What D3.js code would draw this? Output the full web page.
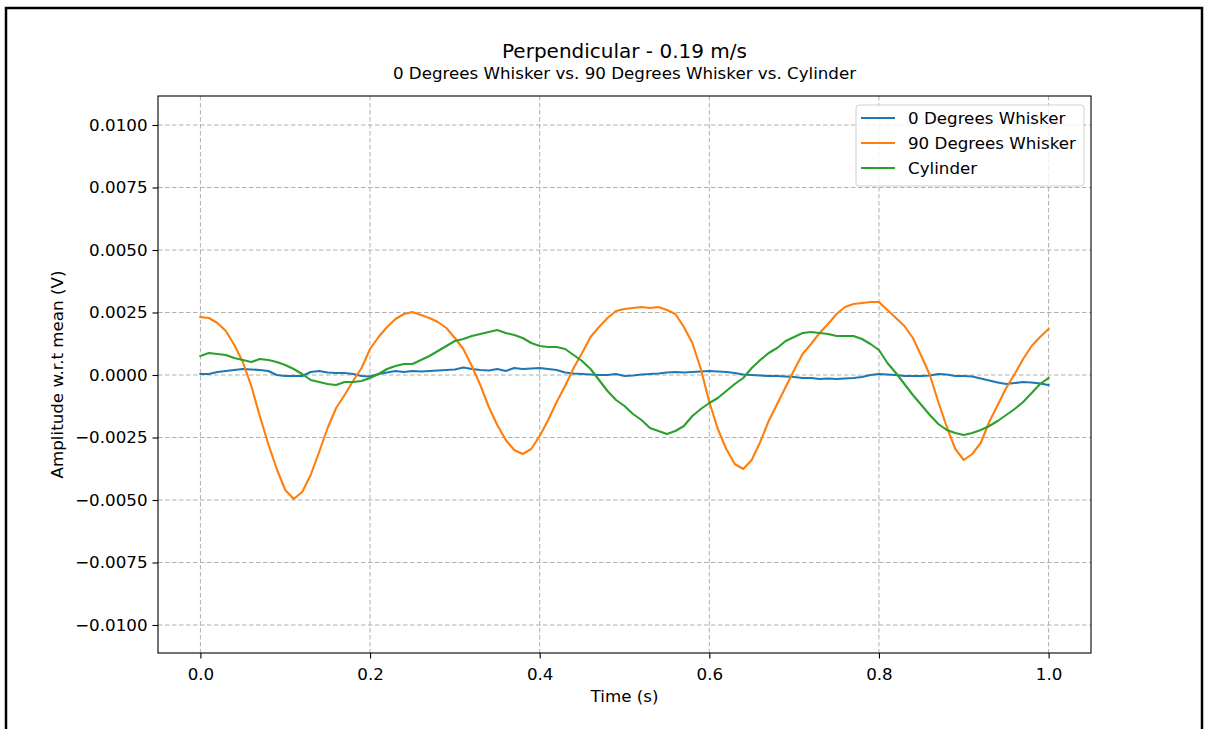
<!DOCTYPE html>
<html>
<head>
<meta charset="utf-8">
<script src="https://cdn.jsdelivr.net/npm/d3@7/dist/d3.min.js"></script>
<style>
  html, body { margin: 0; padding: 0; background: #fff; }
  svg { display: block; }
  text { font-family: "DejaVu Sans", sans-serif; fill: #000; }
</style>
</head>
<body>
<svg id="chart" width="1208" height="729"></svg>
<script>
// ---- Data (values in volts = listed value × 0.001) ----
const timeStart = 0, timeStep = 0.01; // time grid 0.00 .. 1.00 s
const seriesNames = ["0 Degrees Whisker", "90 Degrees Whisker", "Cylinder"];
const seriesColors = ["#1f77b4", "#ff7f0e", "#2ca02c"];

const whisker0 = [0.04,0.04,0.12,0.16,0.20,0.24,0.22,0.20,0.16,0.00,-0.04,-0.04,-0.04,0.12,0.16,0.10,0.08,0.08,0.04,-0.04,
  -0.06,0.04,0.10,0.16,0.12,0.16,0.14,0.16,0.18,0.20,0.22,0.30,0.24,0.20,0.18,0.24,0.16,0.28,0.24,0.26,
  0.28,0.24,0.20,0.10,0.06,0.04,0.02,0.00,0.00,0.04,-0.04,-0.02,0.02,0.04,0.06,0.10,0.12,0.10,0.12,0.14,
  0.16,0.14,0.12,0.08,0.02,0.00,-0.02,-0.04,-0.04,-0.06,-0.08,-0.12,-0.12,-0.16,-0.14,-0.16,-0.14,-0.12,-0.08,0.00,
  0.04,0.02,0.00,-0.04,-0.04,-0.04,-0.02,0.04,0.02,-0.04,-0.04,-0.06,-0.14,-0.22,-0.30,-0.36,-0.32,-0.28,-0.30,-0.34,-0.40];

const whisker90 = [2.32,2.28,2.08,1.76,1.20,0.52,-0.44,-1.64,-2.76,-3.76,-4.60,-4.96,-4.68,-4.00,-3.08,-2.12,-1.32,-0.80,-0.24,0.28,
  1.04,1.52,1.92,2.24,2.44,2.52,2.40,2.28,2.12,1.88,1.48,1.04,0.36,-0.40,-1.28,-2.00,-2.60,-3.00,-3.16,-2.96,
  -2.44,-1.80,-1.08,-0.44,0.28,0.88,1.52,1.92,2.28,2.56,2.64,2.68,2.72,2.68,2.72,2.60,2.44,1.92,1.28,0.24,
  -1.08,-2.16,-2.96,-3.56,-3.76,-3.40,-2.68,-1.84,-1.16,-0.48,0.20,0.84,1.24,1.68,2.04,2.44,2.72,2.84,2.88,2.92,
  2.92,2.60,2.28,1.96,1.48,0.76,0.00,-1.08,-2.08,-2.96,-3.40,-3.16,-2.72,-1.88,-1.20,-0.52,0.04,0.64,1.16,1.52,1.84];

const cylinder = [0.76,0.88,0.84,0.80,0.68,0.60,0.52,0.64,0.60,0.52,0.40,0.24,0.04,-0.20,-0.28,-0.36,-0.40,-0.28,-0.28,-0.24,
  -0.12,0.04,0.24,0.36,0.44,0.44,0.60,0.76,0.96,1.16,1.36,1.44,1.56,1.64,1.72,1.80,1.68,1.60,1.48,1.28,
  1.16,1.12,1.12,1.04,0.80,0.56,0.24,-0.20,-0.64,-1.00,-1.24,-1.56,-1.80,-2.12,-2.24,-2.36,-2.24,-2.04,-1.64,-1.36,
  -1.12,-0.92,-0.64,-0.36,-0.12,0.28,0.60,0.88,1.08,1.36,1.52,1.68,1.72,1.68,1.64,1.56,1.56,1.56,1.44,1.24,
  1.00,0.48,0.08,-0.36,-0.80,-1.20,-1.60,-1.96,-2.20,-2.32,-2.40,-2.32,-2.20,-2.04,-1.84,-1.60,-1.36,-1.08,-0.72,-0.36,-0.12];

const xTicks = [0.0, 0.2, 0.4, 0.6, 0.8, 1.0];
const yTicks = [-0.0100, -0.0075, -0.0050, -0.0025, 0.0000, 0.0025, 0.0050, 0.0075, 0.0100];
const titleText = "Perpendicular - 0.19 m/s";
const subtitleText = "0 Degrees Whisker vs. 90 Degrees Whisker vs. Cylinder";
const xLabel = "Time (s)";
const yLabel = "Amplitude w.r.t mean (V)";

// ---- Layout ----
const svg = d3.select("#chart");
const plot = { left: 158, right: 1091, top: 96, bottom: 653 };
const FS = 16.7, FT = 20;

// figure frame
svg.append("rect").attr("x", 6).attr("y", 8).attr("width", 1196).attr("height", 760)
  .attr("fill", "#fff").attr("stroke", "#000").attr("stroke-width", 2.5);

const x = d3.scaleLinear().domain([-0.05, 1.05]).range([plot.left, plot.right]);
const y = d3.scaleLinear().domain([-0.01112, 0.01116]).range([plot.bottom, plot.top]);

// grid
const grid = svg.append("g");
grid.selectAll("line.gx").data(xTicks).enter().append("line")
  .attr("x1", d => x(d)).attr("x2", d => x(d)).attr("y1", plot.top).attr("y2", plot.bottom)
  .attr("stroke", "#b0b0b0").attr("stroke-width", 1).attr("stroke-dasharray", "4.5,2.5");
grid.selectAll("line.gy").data(yTicks).enter().append("line")
  .attr("y1", d => y(d)).attr("y2", d => y(d)).attr("x1", plot.left).attr("x2", plot.right)
  .attr("stroke", "#b0b0b0").attr("stroke-width", 1).attr("stroke-dasharray", "4.5,2.5");

// lines
const series = [whisker0, whisker90, cylinder];
const line = d3.line()
  .x((d, i) => x(timeStart + i * timeStep))
  .y(d => y(d * 0.001));
svg.append("clipPath").attr("id", "plotclip").append("rect")
  .attr("x", plot.left).attr("y", plot.top)
  .attr("width", plot.right - plot.left).attr("height", plot.bottom - plot.top);
const lines = svg.append("g").attr("clip-path", "url(#plotclip)");
series.forEach((s, k) => {
  lines.append("path").datum(s).attr("d", line)
    .attr("fill", "none").attr("stroke", seriesColors[k])
    .attr("stroke-width", 2.1).attr("stroke-linejoin", "round").attr("stroke-linecap", "square");
});

// axes
const fmtY = v => d3.format(".4f")(v).replace("-", "\u2212");
const xAxis = d3.axisBottom(x).tickValues(xTicks).tickFormat(d3.format(".1f")).tickSize(5.5).tickPadding(9.5);
const yAxis = d3.axisLeft(y).tickValues(yTicks).tickFormat(fmtY).tickSize(5.5).tickPadding(5);
const gx = svg.append("g").attr("transform", `translate(0,${plot.bottom})`).call(xAxis);
const gy = svg.append("g").attr("transform", `translate(${plot.left},0)`).call(yAxis);
[gx, gy].forEach(g => {
  g.select(".domain").remove();
  g.selectAll(".tick line").attr("stroke", "#000").attr("stroke-width", 1.1);
  g.selectAll(".tick text").attr("font-family", "DejaVu Sans").attr("font-size", FS).attr("fill", "#000");
});

// spines
svg.append("rect").attr("x", plot.left).attr("y", plot.top)
  .attr("width", plot.right - plot.left).attr("height", plot.bottom - plot.top)
  .attr("fill", "none").attr("stroke", "#000").attr("stroke-width", 1.1);

// titles
const cx = (plot.left + plot.right) / 2;
svg.append("text").attr("x", cx).attr("y", 58).attr("text-anchor", "middle")
  .attr("font-size", FT).text(titleText);
svg.append("text").attr("x", cx).attr("y", 79).attr("text-anchor", "middle")
  .attr("font-size", FS).text(subtitleText);
svg.append("text").attr("x", cx).attr("y", 702).attr("text-anchor", "middle")
  .attr("font-size", FS).text(xLabel);
svg.append("text").attr("transform", `translate(63,${(plot.top + plot.bottom) / 2}) rotate(-90)`)
  .attr("text-anchor", "middle").attr("font-size", FS).text(yLabel);

// legend
const lg = svg.append("g");
lg.append("rect").attr("x", 856).attr("y", 105).attr("width", 228).attr("height", 81)
  .attr("rx", 3).attr("fill", "#fff").attr("fill-opacity", 0.8)
  .attr("stroke", "#d0d0d0").attr("stroke-width", 1);
seriesNames.forEach((n, k) => {
  const yy = 118 + k * 25;
  lg.append("line").attr("x1", 861).attr("x2", 895).attr("y1", yy).attr("y2", yy)
    .attr("stroke", seriesColors[k]).attr("stroke-width", 2.1);
  lg.append("text").attr("x", 908).attr("y", yy + 6).attr("font-size", FS).text(n);
});
</script>
</body>
</html>
